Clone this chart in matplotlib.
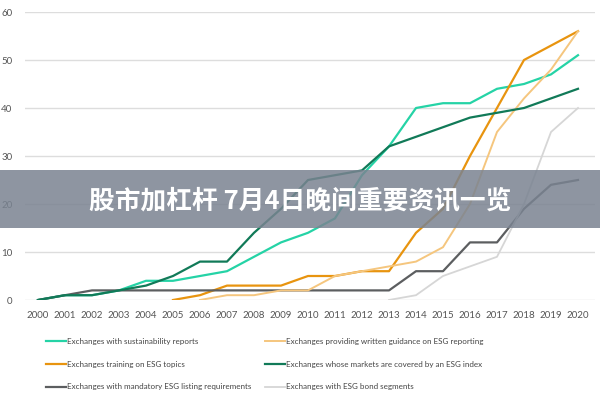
import numpy as np
import matplotlib
matplotlib.use("Agg")
import matplotlib.pyplot as plt
from matplotlib.patches import Rectangle

plt.rcParams['font.family'] = ['Lato', 'Noto Sans CJK SC', 'DejaVu Sans']

years = list(range(2000, 2021))

# values
sust_reports = [0, 1, 1, 2, 4, 4, 5, 6, 9, 12, 14, 17, 26, 32, 40, 41, 41, 44, 45, 47, 51]
esg_index = [0, 1, 1, 2, 3, 5, 8, 8, 14, 19, 25, 26, 27, 32, 34, 36, 38, 39, 40, 42, 44]
mandatory = [0, 1, 2, 2, 2, 2, 2, 2, 2, 2, 2, 2, 2, 2, 6, 6, 12, 12, 19, 24, 25]
training_years = list(range(2005, 2021))
training = [0, 1, 3, 3, 3, 5, 5, 6, 6, 14, 19, 30, 40, 50, 53, 56]
guidance_years = list(range(2006, 2021))
guidance = [0, 1, 1, 2, 2, 5, 6, 7, 8, 11, 20, 35, 42, 48, 56]
bond_years = list(range(2013, 2021))
bond = [0, 1, 5, 7, 9, 20, 35, 40]

labels_left = ["Exchanges with sustainability reports",
               "Exchanges training on ESG topics",
               "Exchanges with mandatory ESG listing requirements"]
labels_right = ["Exchanges providing written guidance on ESG reporting",
                "Exchanges whose markets are covered by an ESG index",
                "Exchanges with ESG bond segments"]

fig = plt.figure(figsize=(6, 4), dpi=100)
ax = fig.add_axes([25 / 600, 0.25, 570 / 600, 0.72])

l1, = ax.plot(years, sust_reports, color='#25d3a6', lw=1.6)
l2, = ax.plot(training_years, training, color='#e8940f', lw=1.6)
l3, = ax.plot(years, mandatory, color='#5c5e60', lw=1.6)
l4, = ax.plot(guidance_years, guidance, color='#f5c67e', lw=1.4)
l5, = ax.plot(years, esg_index, color='#117a58', lw=1.6)
l6, = ax.plot(bond_years, bond, color='#d6d6d6', lw=1.3)

ax.set_xlim(2000 - 13 / 27, 2020 + 17 / 27)
ax.set_ylim(0, 60)
ax.set_yticks(range(0, 61, 10))
ax.set_xticks(years)
ax.grid(axis='y', color='#dddddd', lw=1)
ax.set_axisbelow(True)
for s in ax.spines.values():
    s.set_visible(False)
ax.tick_params(length=0, labelsize=7, colors='#555555')
ax.tick_params(axis='y', pad=9)
ax.tick_params(axis='x', pad=8)

leg_opts = dict(frameon=False, loc='upper left', fontsize=5.8, borderpad=0,
                borderaxespad=0, handlelength=2.5, handletextpad=0.15,
                labelspacing=1.95, labelcolor='#444444')
leg1 = fig.legend([l1, l2, l3], labels_left, bbox_to_anchor=(46 / 600, 0.155), **leg_opts)
leg2 = fig.legend([l4, l5, l6], labels_right, bbox_to_anchor=(265 / 600, 0.155), **leg_opts)

# grey banner over the chart
fig.patches.append(Rectangle((0, 1 - 228 / 400), 1, 58 / 400, transform=fig.transFigure,
                             facecolor='#7a8391', alpha=0.85, zorder=5))
fig.text(0.5, 1 - 201 / 400, "股市加杠杆 7月4日晚间重要资讯一览", color='white',
         fontsize=18.5, fontweight='bold', ha='center', va='center', zorder=6,
         family=['Noto Sans CJK SC', 'DejaVu Sans'])

fig.savefig('out.png', dpi=100)
